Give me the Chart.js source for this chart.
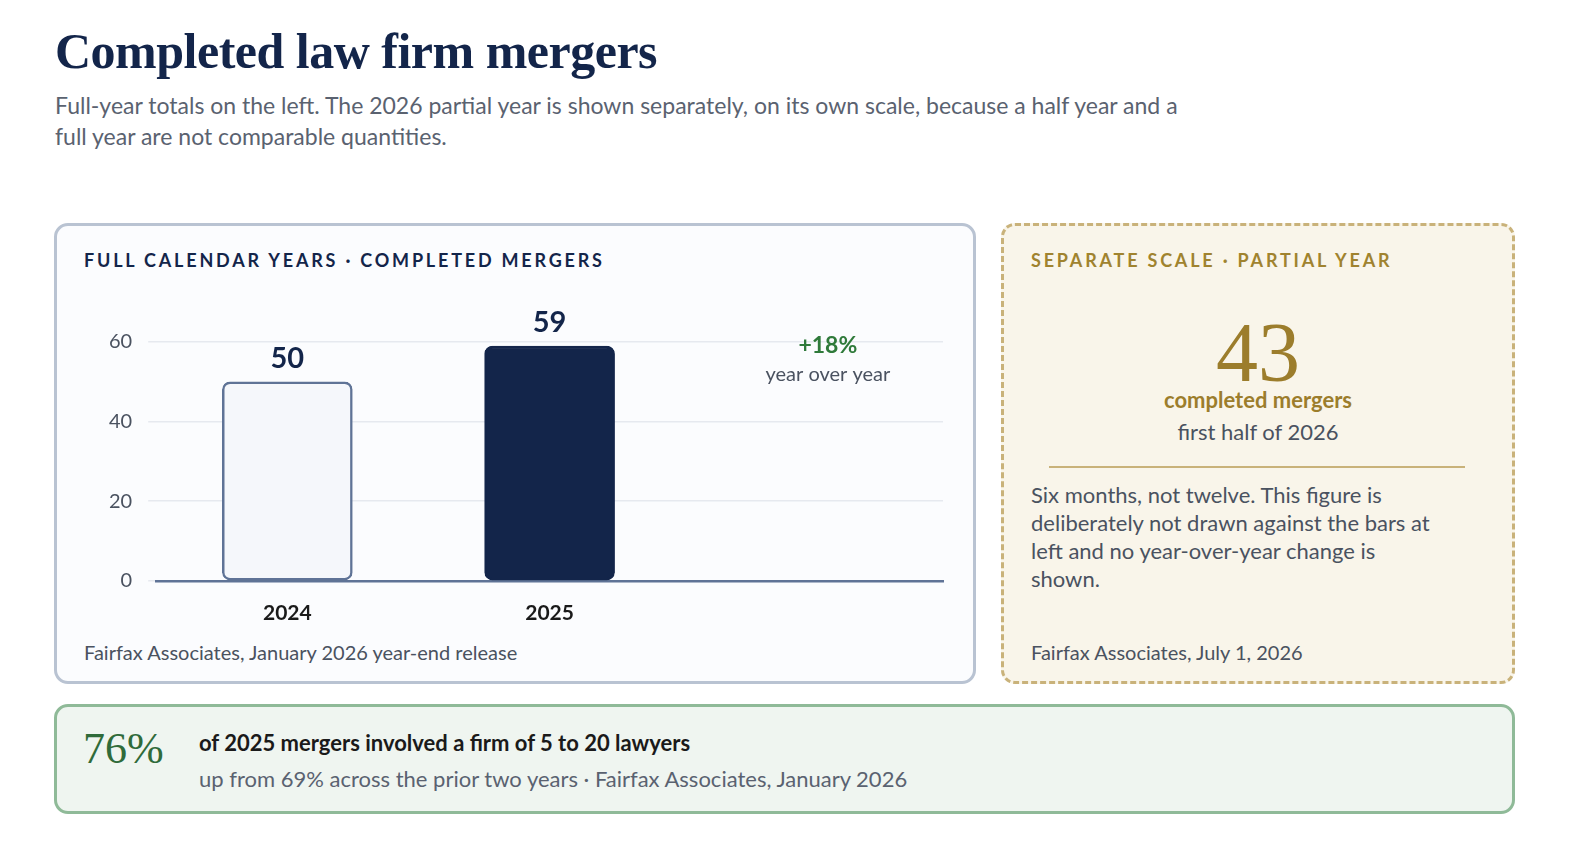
<!DOCTYPE html>
<html><head><meta charset="utf-8">
<script src="https://cdn.jsdelivr.net/npm/chart.js@4"></script>
<style>
html,body{margin:0;overflow:hidden}
body{background:#fff;font-family:Lato,"Noto Sans",sans-serif;color:#13254a;width:1590px;height:852px;position:relative}
h1{position:absolute;left:55px;top:22px;margin:0;font-family:"Liberation Serif","DejaVu Serif",serif;font-weight:700;font-size:50px;color:#13254a;letter-spacing:-0.5px}
.sub{position:absolute;left:55px;top:90px;width:1130px;font-size:23px;line-height:31px;color:#5a6270}
.card{position:absolute;box-sizing:border-box;border-radius:14px}
#left{left:54px;top:223px;width:922px;height:461px;border:3px solid #b9c3d2;background:#fbfcfe}
#right{left:1001px;top:223px;width:514px;height:461px;border:3px dashed #c9b27a;background:#f9f5ea}
#bottom{left:54px;top:704px;width:1461px;height:110px;border:3px solid #8fba98;background:#eff5f0}
.kicker{position:absolute;top:23px;left:27px;font-size:18px;font-weight:700;letter-spacing:2.8px}
.src{position:absolute;left:27px;top:414px;font-size:20px;color:#4a5260}
#chartwrap{position:absolute;left:26px;top:66px;width:870px;height:346px}
</style></head><body>
<h1>Completed law firm mergers</h1>
<div class="sub">Full-year totals on the left. The 2026 partial year is shown separately, on its own scale, because a half year and a full year are not comparable quantities.</div>
<div class="card" id="left">
  <div class="kicker" style="color:#13254a">FULL CALENDAR YEARS · COMPLETED MERGERS</div>
  <div id="chartwrap"><canvas id="myChart"></canvas></div>
  <div class="src">Fairfax Associates, January 2026 year-end release</div>
</div>
<div class="card" id="right">
  <div class="kicker" style="color:#a0832f">SEPARATE SCALE · PARTIAL YEAR</div>
  <div style="position:absolute;left:0;width:508px;top:82px;text-align:center;font-family:'Liberation Serif','DejaVu Serif',serif;font-size:84px;line-height:90px;color:#9c7d2c">43</div>
  <div style="position:absolute;left:0;width:508px;top:160px;text-align:center;font-size:22px;font-weight:700;color:#9c7d2c">completed mergers</div>
  <div style="position:absolute;left:0;width:508px;top:192px;text-align:center;font-size:22px;color:#4a5260">first half of 2026</div>
  <div style="position:absolute;left:45px;width:416px;top:240px;border-top:2px solid #c9b27a"></div>
  <div style="position:absolute;left:27px;width:400px;top:255px;font-size:22px;line-height:28px;color:#4a5260">Six months, not twelve. This figure is deliberately not drawn against the bars at left and no year-over-year change is shown.</div>
  <div class="src">Fairfax Associates, July 1, 2026</div>
</div>
<div class="card" id="bottom">
  <div style="position:absolute;left:26px;top:16px;font-family:'Liberation Serif','DejaVu Serif',serif;font-size:44px;color:#2f6b3a">76%</div>
  <div style="position:absolute;left:142px;top:22px;font-size:22px;font-weight:700;color:#1a1a1a">of 2025 mergers involved a firm of 5 to 20 lawyers</div>
  <div style="position:absolute;left:142px;top:58px;font-size:22px;color:#5a6270">up from 69% across the prior two years · Fairfax Associates, January 2026</div>
</div>
<script>
var years = ['2024', '2025', ''];
var mergers = [50, 59, null];
var yTicks = [0, 20, 40, 60];
var yoyLabel = '+18%';
var yoySub = 'year over year';
var FONT = 'Lato,"Noto Sans",sans-serif';

var labelPlugin = {
    id: 'labels',
    afterDatasetsDraw: function (chart) {
        var ctx = chart.ctx, meta = chart.getDatasetMeta(0);
        ctx.save();
        ctx.textAlign = 'center';
        ctx.fillStyle = '#13254a';
        ctx.font = '700 29px ' + FONT;
        meta.data.forEach(function (bar, i) {
            if (mergers[i] == null) return;
            ctx.fillText(String(mergers[i]), bar.x, bar.y - 14);
        });
        var x = chart.scales.x.getPixelForValue(2) + 16;
        var y = chart.scales.y.getPixelForValue(60);
        ctx.fillStyle = '#2f7a3a';
        ctx.font = '700 23px ' + FONT;
        ctx.fillText(yoyLabel, x, y + 11);
        ctx.fillStyle = '#4a5260';
        ctx.font = '20px ' + FONT;
        ctx.fillText(yoySub, x, y + 39);
        ctx.restore();
    }
};

new Chart(document.getElementById('myChart'), {
    type: 'bar',
    data: {
        labels: years,
        datasets: [{
            data: mergers,
            backgroundColor: ['#f5f7fb', '#13254a'],
            borderColor: ['#5f7396', '#13254a'],
            borderWidth: 2.5,
            borderRadius: 8,
            borderSkipped: false,
            barThickness: 130
        }]
    },
    options: {
        responsive: true,
        maintainAspectRatio: false,
        animation: false,
        layout: { padding: { top: 50, right: 10, left: 10 } },
        plugins: { legend: { display: false }, tooltip: { enabled: false } },
        scales: {
            x: {
                grid: { display: false },
                border: { color: '#5f7396', width: 2.5 },
                ticks: { color: '#1a1a1a', padding: 12, font: { size: 21, weight: '700', family: FONT } }
            },
            y: {
                min: 0, max: 60,
                afterBuildTicks: function (axis) { axis.ticks = yTicks.map(function (v) { return { value: v }; }); },
                grid: { color: '#e6e9ef', lineWidth: 1.5 },
                border: { display: false },
                ticks: { color: '#4a5260', padding: 16, font: { size: 20, family: FONT } }
            }
        }
    },
    plugins: [labelPlugin]
});
</script>
</body></html>
